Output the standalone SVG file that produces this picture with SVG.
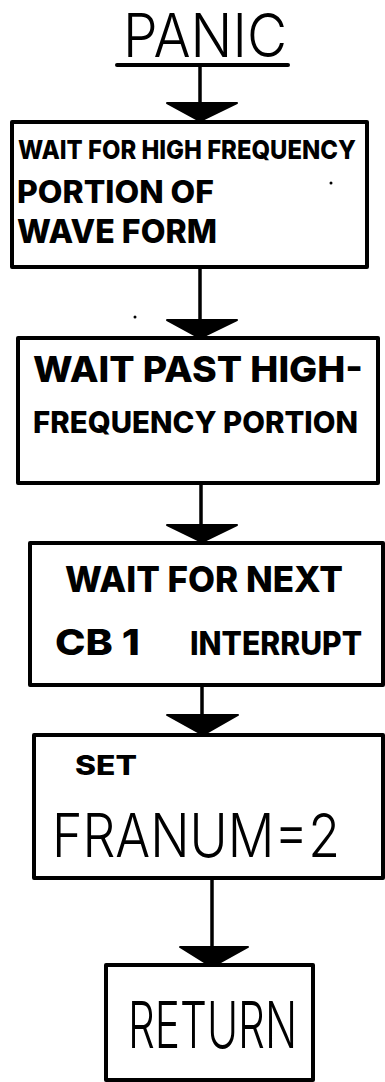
<svg xmlns="http://www.w3.org/2000/svg" width="385" height="1082" viewBox="0 0 385 1082">
  <style>
    .box { fill: #fff; stroke: #000; stroke-width: 4; stroke-linejoin: round; }
    .wire { stroke: #000; stroke-width: 3.5; stroke-linecap: round; fill: none; }
    .head { fill: #000; stroke: #000; stroke-width: 2; stroke-linejoin: round; }
    .bold { font-family: Inter, "Liberation Sans", sans-serif; font-weight: 800; fill: #000; }
    .thin { font-family: Inter, "Liberation Sans", sans-serif; font-weight: 300; fill: #000; }
  </style>
  <rect width="385" height="1082" fill="#fff"/>

  <!-- title -->
  <g id="title">
    <text class="thin" x="123" y="57" font-size="60" textLength="164" lengthAdjust="spacingAndGlyphs">PANIC</text>
    <line x1="117" y1="65" x2="288" y2="65" stroke="#000" stroke-width="4" stroke-linecap="round"/>
  </g>

  <!-- connectors -->
  <g id="connectors">
    <line class="wire" x1="200" y1="65" x2="200" y2="106"/>
    <polygon class="head" points="167,103 237,103 200,121"/>
    <line class="wire" x1="200" y1="267" x2="200" y2="322"/>
    <polygon class="head" points="167,320 237,320 200,338"/>
    <line class="wire" x1="201" y1="483" x2="201" y2="527"/>
    <polygon class="head" points="167,525 237,525 202,542"/>
    <line class="wire" x1="202" y1="685" x2="202" y2="717"/>
    <polygon class="head" points="167,715 238,715 203,735"/>
    <line class="wire" x1="212" y1="878" x2="212" y2="949" stroke-width="2"/>
    <polygon class="head" points="180,947 248,947 212,967"/>
  </g>

  <!-- step 1 -->
  <g id="wait-hf-start">
    <rect class="box" x="12" y="122" width="355" height="145"/>
    <text class="bold" x="18" y="159" font-size="26" textLength="338" lengthAdjust="spacingAndGlyphs">WAIT FOR HIGH FREQUENCY</text>
    <text class="bold" x="17" y="203" font-size="31" textLength="197" lengthAdjust="spacingAndGlyphs">PORTION  OF</text>
    <text class="bold" x="17" y="243" font-size="33" textLength="200" lengthAdjust="spacingAndGlyphs">WAVE FORM</text>
    <circle cx="331" cy="183" r="1.5" fill="#000"/>
  </g>

  <!-- step 2 -->
  <g id="wait-hf-past">
    <circle cx="135" cy="317" r="1.5" fill="#000"/>
    <rect class="box" x="18" y="338" width="360" height="145"/>
    <text class="bold" x="33" y="382" font-size="36" textLength="330" lengthAdjust="spacingAndGlyphs">WAIT  PAST  HIGH-</text>
    <text class="bold" x="33" y="433" font-size="30" textLength="325" lengthAdjust="spacingAndGlyphs">FREQUENCY  PORTION</text>
  </g>

  <!-- step 3 -->
  <g id="wait-cb1">
    <rect class="box" x="30" y="543" width="353" height="142"/>
    <text class="bold" x="65" y="592" font-size="36" textLength="278" lengthAdjust="spacingAndGlyphs">WAIT  FOR  NEXT</text>
    <text class="bold" x="55" y="655" font-size="36" textLength="85" lengthAdjust="spacingAndGlyphs">CB 1</text>
    <text class="bold" x="190" y="655" font-size="32" textLength="172" lengthAdjust="spacingAndGlyphs">INTERRUPT</text>
  </g>

  <!-- step 4 -->
  <g id="set-franum">
    <rect class="box" x="34" y="735" width="349" height="143"/>
    <text class="bold" x="75" y="775" font-size="27" textLength="62" lengthAdjust="spacingAndGlyphs">SET</text>
    <text class="thin" x="52" y="857" font-size="60" textLength="288" lengthAdjust="spacingAndGlyphs">FRANUM=2</text>
  </g>

  <!-- exit -->
  <g id="return">
    <rect class="box" x="106" y="965" width="207" height="115"/>
    <text class="thin" x="128" y="1048" font-size="64" textLength="169" lengthAdjust="spacingAndGlyphs">RETURN</text>
  </g>
</svg>
